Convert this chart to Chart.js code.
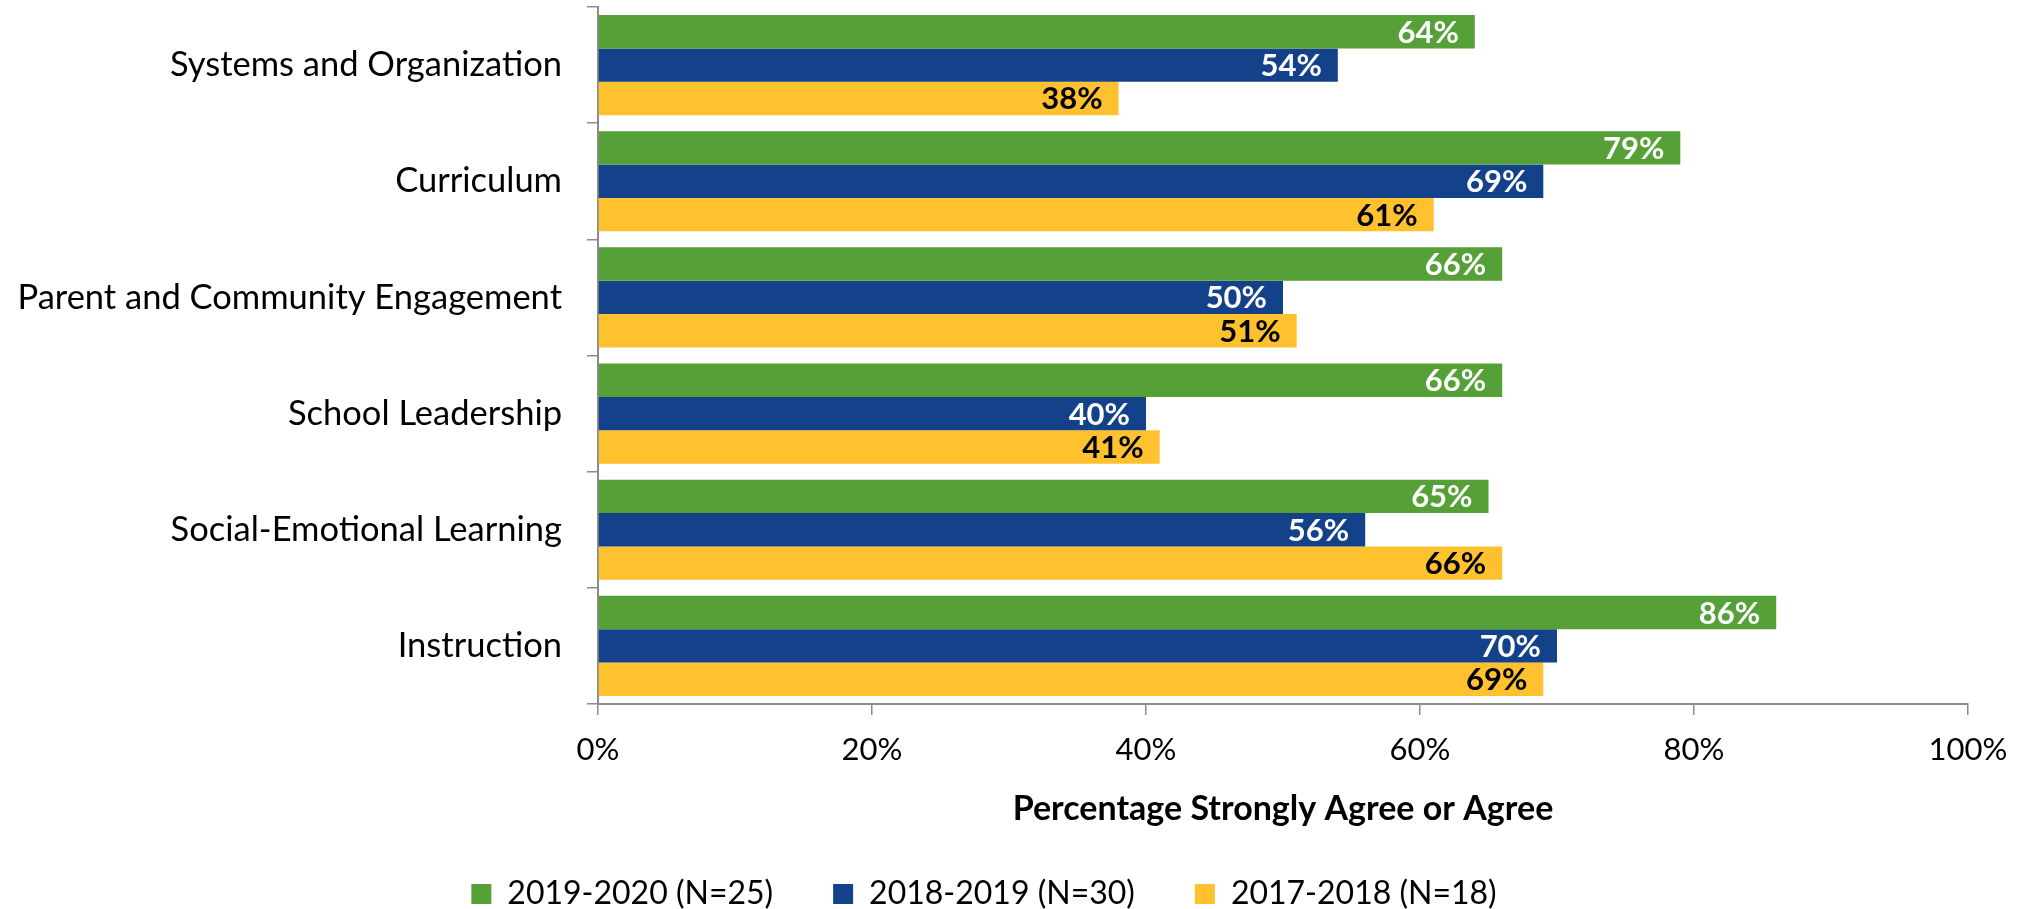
<!DOCTYPE html>
<html>
<head>
<meta charset="utf-8">
<script src="https://cdn.jsdelivr.net/npm/chart.js@4.4.0/dist/chart.umd.min.js"></script>
<style>
  html, body { margin: 0; padding: 0; background: #fff; }
  #wrap { width: 2028px; height: 909px; }
</style>
</head>
<body>
<div id="wrap"><canvas id="grafico" width="2028" height="909"></canvas></div>
<script>
// dados
const categorias = [
    'Systems and Organization',
    'Curriculum',
    'Parent and Community Engagement',
    'School Leadership',
    'Social-Emotional Learning',
    'Instruction'
];
const serie2019 = [64, 79, 66, 66, 65, 86];
const serie2018 = [54, 69, 50, 40, 56, 70];
const serie2017 = [38, 61, 51, 41, 66, 69];
const nomesSeries = ['2019-2020 (N=25)', '2018-2019 (N=30)', '2017-2018 (N=18)'];
const ticksX = [0, 20, 40, 60, 80, 100];

const fonte = 'Lato, "Noto Sans", sans-serif';
const cinza = '#8c8c8c';

// rótulos dentro das barras
const rotulosPlugin = {
    id: 'rotulos',
    afterDatasetsDraw(chart) {
        const ctx = chart.ctx;
        ctx.save();
        ctx.font = 'bold 31px ' + fonte;
        ctx.textAlign = 'right';
        ctx.textBaseline = 'middle';
        chart.data.datasets.forEach((ds, i) => {
            const meta = chart.getDatasetMeta(i);
            ctx.fillStyle = i === 2 ? '#000' : '#fff';
            meta.data.forEach((bar, j) => {
                ctx.fillText(ds.data[j] + '%', bar.x - 16, bar.y + 1);
            });
        });
        ctx.restore();
    }
};

new Chart(document.getElementById('grafico'), {
    type: 'bar',
    data: {
        labels: categorias,
        datasets: [
            { label: nomesSeries[0], data: serie2019, backgroundColor: '#55a138' },
            { label: nomesSeries[1], data: serie2018, backgroundColor: '#13428a' },
            { label: nomesSeries[2], data: serie2017, backgroundColor: '#ffc22e' }
        ]
    },
    options: {
        indexAxis: 'y',
        responsive: false,
        animation: false,
        devicePixelRatio: 1,
        categoryPercentage: 0.862,
        barPercentage: 1,
        layout: { padding: { top: 7, right: 60, left: 0, bottom: 0 } },
        scales: {
            x: {
                min: 0,
                max: 100,
                afterBuildTicks: s => { s.ticks = ticksX.map(v => ({ value: v })); },
                afterFit: s => { s.height = 114; },
                grid: { drawOnChartArea: false, tickLength: 11, color: cinza, lineWidth: 1.5 },
                border: { color: cinza, width: 2 },
                ticks: {
                    color: '#000',
                    padding: 16,
                    font: { family: fonte, size: 31 },
                    callback: v => v + '%'
                },
                title: {
                    display: true,
                    text: 'Percentage Strongly Agree or Agree',
                    color: '#000',
                    padding: { top: 0, bottom: -11 },
                    font: { family: fonte, size: 34, weight: 'bold' }
                }
            },
            y: {
                afterFit: s => { s.width = 598; s.paddingTop = 0; s.paddingBottom = 0; },
                grid: { offset: true, drawOnChartArea: false, tickLength: 11, color: cinza, lineWidth: 1.5 },
                border: { color: cinza, width: 2 },
                ticks: {
                    color: '#000',
                    padding: 25,
                    font: { family: fonte, size: 34.5 }
                }
            }
        },
        plugins: {
            tooltip: { enabled: false },
            legend: {
                position: 'bottom',
                maxHeight: 91,
                labels: {
                    color: '#000',
                    boxWidth: 20,
                    boxHeight: 20,
                    padding: 60,
                    font: { family: fonte, size: 32 }
                }
            }
        }
    },
    plugins: [rotulosPlugin]
});
</script>
</body>
</html>
